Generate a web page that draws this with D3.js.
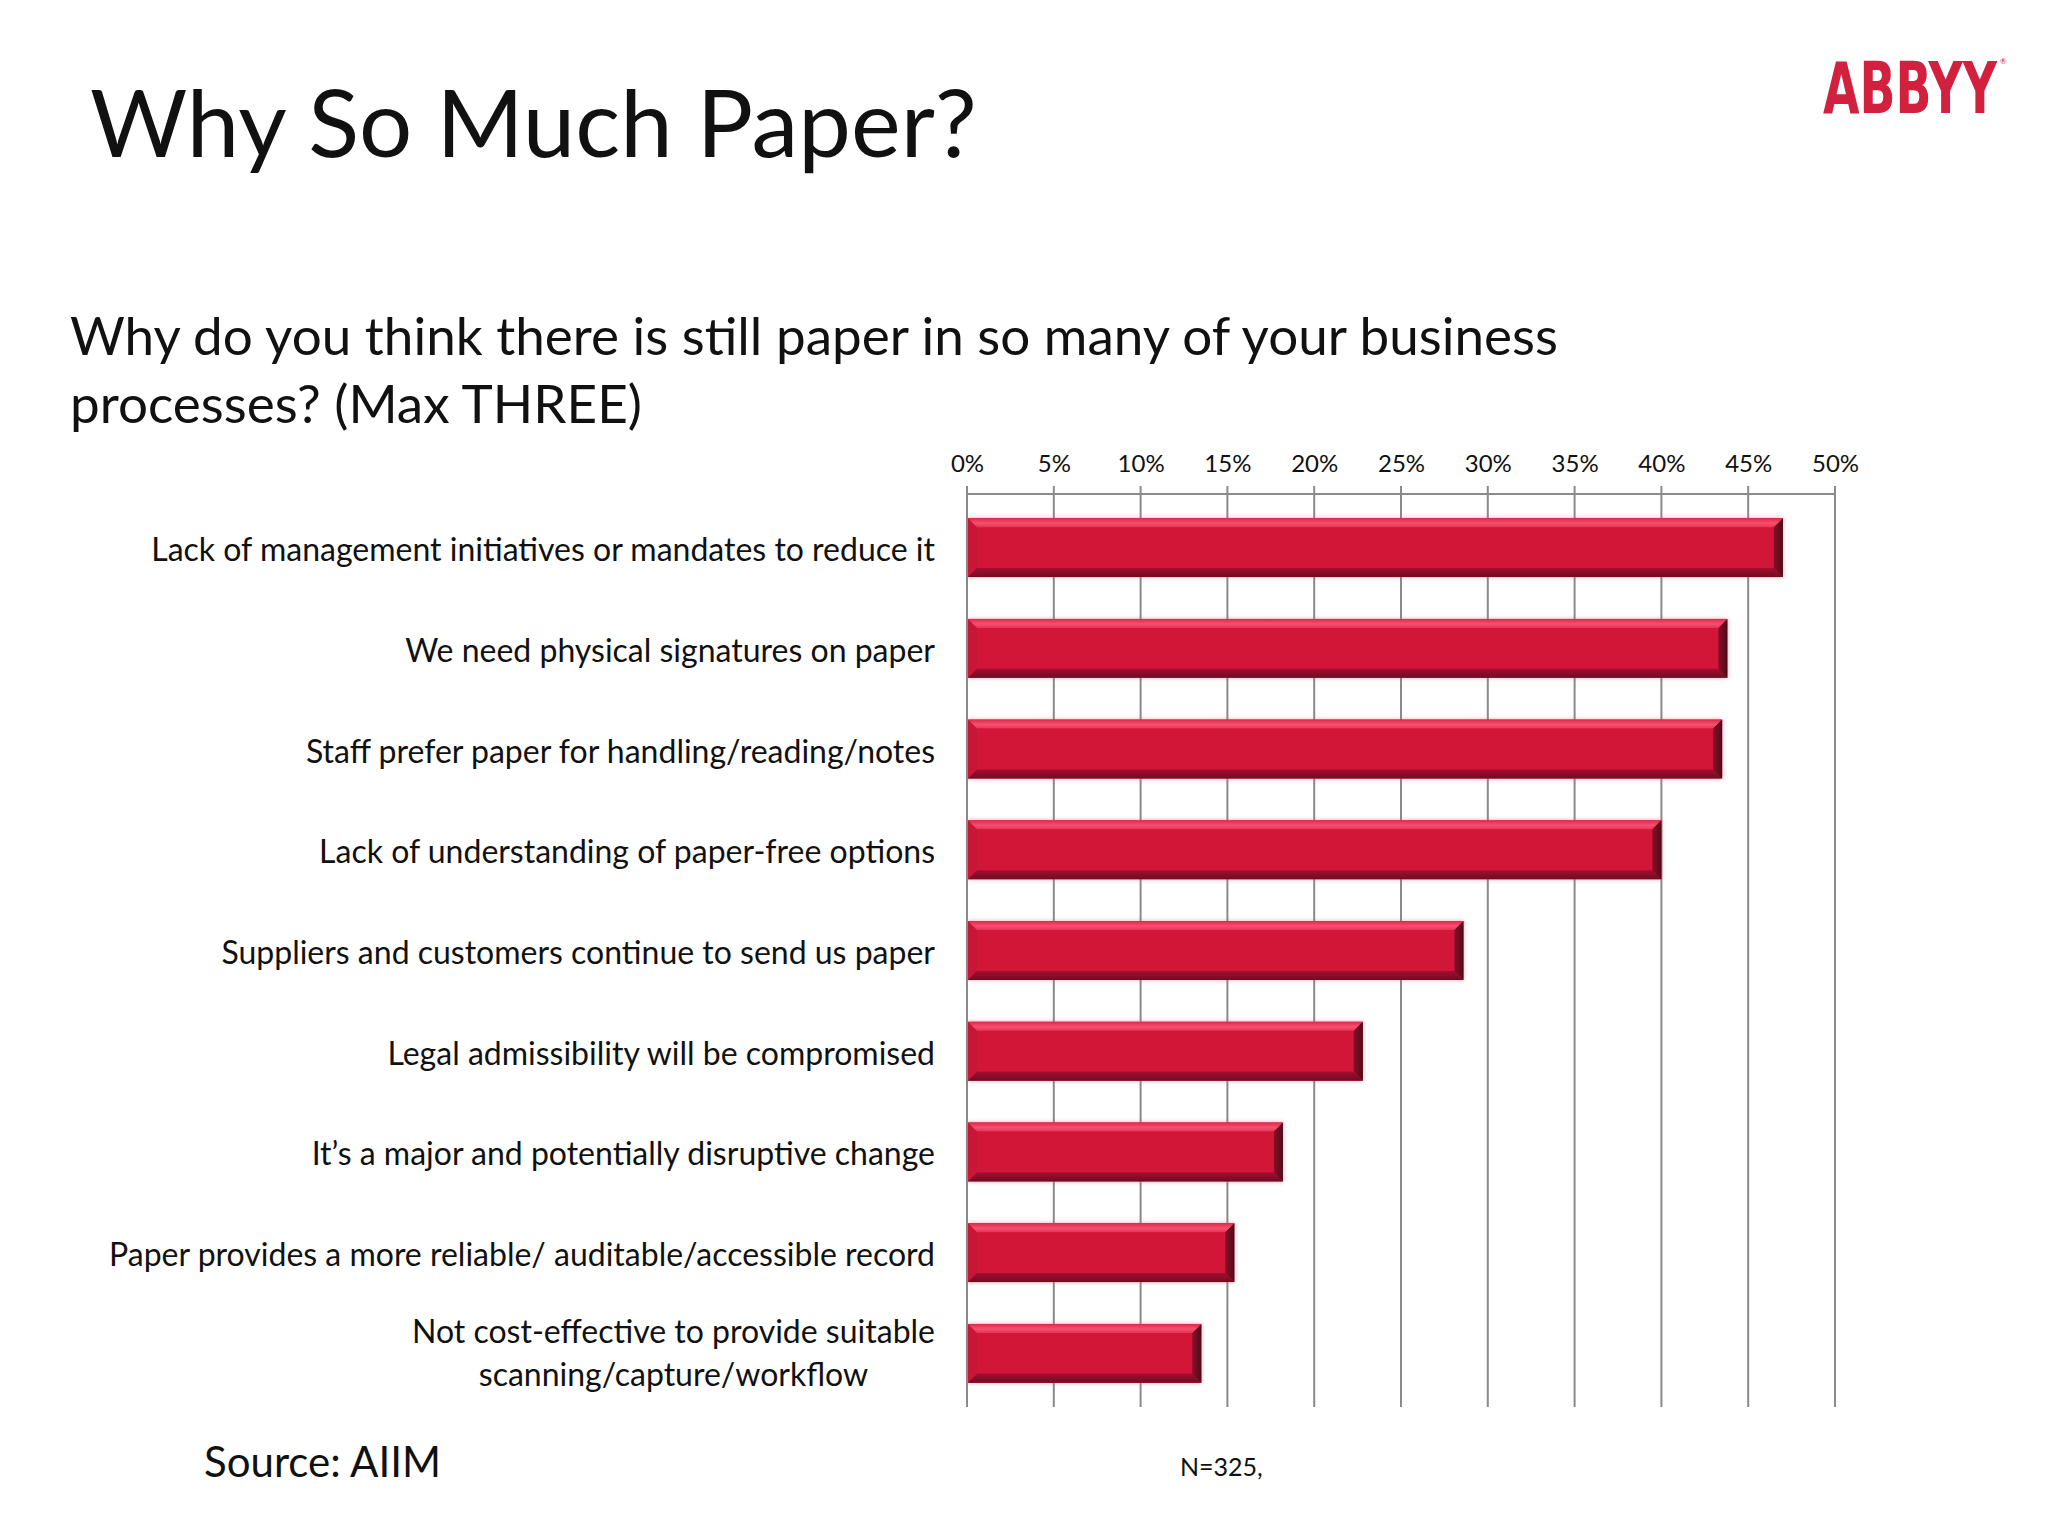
<!DOCTYPE html>
<html>
<head>
<meta charset="utf-8">
<script src="https://cdn.jsdelivr.net/npm/d3@7"></script>
<style>
  html, body { margin: 0; padding: 0; background: #ffffff; }
  svg { display: block; }
  text { font-family: Lato, "Open Sans", "Noto Sans", sans-serif; fill: #111; }
</style>
</head>
<body>
<svg id="chart" width="2048" height="1536"></svg>
<script>
// ---- Data ----
const categories = [
  "Lack of management initiatives or mandates to reduce it",
  "We need physical signatures on paper",
  "Staff prefer paper for handling/reading/notes",
  "Lack of understanding of paper-free options",
  "Suppliers and customers continue to send us paper",
  "Legal admissibility will be compromised",
  "It\u2019s a major and potentially disruptive change",
  "Paper provides a more reliable/ auditable/accessible record",
  "Not cost-effective to provide suitable\nscanning/capture/workflow"
];
const values = [0.47, 0.438, 0.435, 0.40, 0.286, 0.228, 0.182, 0.154, 0.135];
const tickValues = [0, 0.05, 0.10, 0.15, 0.20, 0.25, 0.30, 0.35, 0.40, 0.45, 0.50];
const tickLabels = ["0%", "5%", "10%", "15%", "20%", "25%", "30%", "35%", "40%", "45%", "50%"];
const titleText = "Why So Much Paper?";
const subtitleLines = ["Why do you think there is still paper in so many of your business", "processes? (Max THREE)"];
const sourceText = "Source: AIIM";
const noteText = "N=325,";
const logoText = "ABBYY";

// ---- Setup ----
const svg = d3.select("#chart");
svg.append("rect").attr("width", 2048).attr("height", 1536).attr("fill", "#ffffff");

const x = d3.scaleLinear().domain([0, 0.5]).range([967, 1835]);
const y = d3.scaleBand().domain(categories).range([494, 1407]).paddingInner(0.415).paddingOuter(0.24);

// Title
svg.append("text").attr("x", 90).attr("y", 157)
  .style("font-size", "94px").text(titleText);

// Logo (scaled horizontally to the logo's width)
const logo = svg.append("text")
  .style("font-family", "'DejaVu Sans Condensed', 'DejaVu Sans', sans-serif")
  .style("font-weight", "bold").style("font-size", "71px").style("fill", "#D2203F")
  .text(logoText);
const lw = logo.node().getComputedTextLength();
logo.attr("transform", `translate(1823,113) scale(${174 / lw},1)`);
svg.append("text").attr("x", 2000).attr("y", 64)
  .style("font-size", "8px").style("fill", "#D2203F").text("\u00AE");

// Subtitle
svg.append("g").selectAll("text").data(subtitleLines).join("text")
  .attr("x", 70).attr("y", (d, i) => 355 + i * 68)
  .style("font-size", "53px").text(d => d);

// Gridlines & top axis
const grid = svg.append("g");
grid.selectAll("line.grid").data(tickValues).join("line")
  .attr("class", "grid")
  .attr("x1", d => x(d)).attr("x2", d => x(d))
  .attr("y1", 486).attr("y2", 1407)
  .attr("stroke", "#8a8a8a").attr("stroke-width", 2);
grid.append("line").attr("x1", x(0)).attr("x2", x(0.5)).attr("y1", 494).attr("y2", 494)
  .attr("stroke", "#8a8a8a").attr("stroke-width", 2);

const axis = d3.axisTop(x).tickValues(tickValues)
  .tickFormat((d, i) => tickLabels[i]).tickSize(0).tickPadding(0);
const axG = svg.append("g").attr("transform", "translate(0,472)").call(axis);
axG.select(".domain").remove();
axG.selectAll("text").attr("dy", 0).attr("y", 0)
  .style("font-family", "Lato, 'Open Sans', sans-serif").style("font-size", "24px").style("fill", "#111");

// Bars with bevel
const defs = svg.append("defs");
const g1 = defs.append("linearGradient").attr("id", "topBevel").attr("x1", 0).attr("x2", 0).attr("y1", 0).attr("y2", 1);
g1.append("stop").attr("offset", "0%").attr("stop-color", "#E0284C");
g1.append("stop").attr("offset", "55%").attr("stop-color", "#F5506F");
g1.append("stop").attr("offset", "100%").attr("stop-color", "#E83458");
const g2 = defs.append("linearGradient").attr("id", "botBevel").attr("x1", 0).attr("x2", 0).attr("y1", 0).attr("y2", 1);
g2.append("stop").attr("offset", "0%").attr("stop-color", "#A60E30");
g2.append("stop").attr("offset", "100%").attr("stop-color", "#6E0A22");
const g3 = defs.append("linearGradient").attr("id", "rightBevel").attr("x1", 0).attr("x2", 1).attr("y1", 0).attr("y2", 0);
g3.append("stop").attr("offset", "0%").attr("stop-color", "#8A0C28");
g3.append("stop").attr("offset", "100%").attr("stop-color", "#4E0616");
const flt = defs.append("filter").attr("id", "halo").attr("x", "-5%").attr("y", "-30%").attr("width", "110%").attr("height", "160%");
flt.append("feGaussianBlur").attr("in", "SourceAlpha").attr("stdDeviation", 2).attr("result", "b");
flt.append("feFlood").attr("flood-color", "#E05070").attr("flood-opacity", 0.5);
flt.append("feComposite").attr("in2", "b").attr("operator", "in").attr("result", "s");
const fm = flt.append("feMerge");
fm.append("feMergeNode").attr("in", "s");
fm.append("feMergeNode").attr("in", "SourceGraphic");

const b = 9;
const bars = svg.append("g").selectAll("g.bar").data(categories).join("g").attr("class", "bar")
  .attr("filter", "url(#halo)");
bars.each(function(c, i) {
  const gEl = d3.select(this);
  const x0 = x(0) + 1, x1 = x(values[i]);
  const y0 = y(c), y1 = y(c) + y.bandwidth();
  gEl.append("rect").attr("x", x0).attr("y", y0).attr("width", x1 - x0).attr("height", y1 - y0).attr("fill", "#D11239");
  gEl.append("polygon").attr("points", [[x0, y0], [x0 + b, y0 + b], [x0 + b, y1 - b], [x0, y1]].join(" ")).attr("fill", "#C81538");
  gEl.append("polygon").attr("points", [[x0, y0], [x1, y0], [x1 - b, y0 + b], [x0 + b, y0 + b]].join(" ")).attr("fill", "url(#topBevel)");
  gEl.append("polygon").attr("points", [[x0, y1], [x1, y1], [x1 - b, y1 - b], [x0 + b, y1 - b]].join(" ")).attr("fill", "url(#botBevel)");
  gEl.append("polygon").attr("points", [[x1, y0], [x1, y1], [x1 - b, y1 - b], [x1 - b, y0 + b]].join(" ")).attr("fill", "url(#rightBevel)");
});

// Category labels
const labelRight = 935;
const labG = svg.append("g");
categories.forEach(c => {
  const lines = c.split("\n");
  const cy = y(c) + y.bandwidth() / 2;
  if (lines.length === 1) {
    labG.append("text").attr("x", labelRight).attr("y", cy + 2).attr("dy", "0.36em")
      .attr("text-anchor", "end").style("font-size", "32px").text(lines[0]);
  } else {
    const tmp = lines.map((l, k) => labG.append("text").attr("text-anchor", "middle")
      .style("font-size", "32px").attr("y", cy - 10 + k * 43).text(l));
    const maxW = d3.max(tmp, t => t.node().getComputedTextLength());
    tmp.forEach(t => t.attr("x", labelRight - maxW / 2));
  }
});

// Source and note
svg.append("text").attr("x", 204).attr("y", 1477).style("font-size", "42px").text(sourceText);
svg.append("text").attr("x", 1180).attr("y", 1476).style("font-size", "25px").text(noteText);
</script>
</body>
</html>
